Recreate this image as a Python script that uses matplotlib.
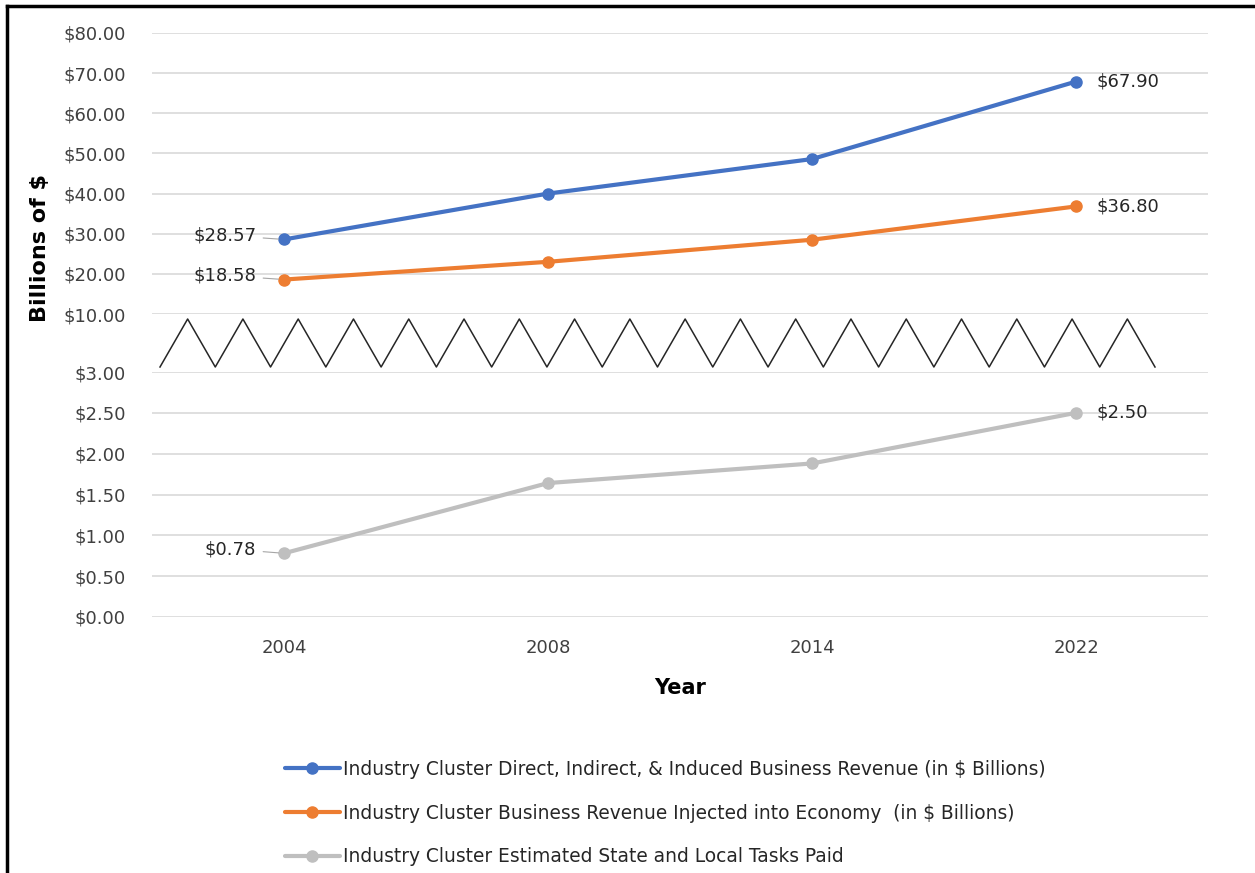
import matplotlib
matplotlib.use("Agg")
import matplotlib.pyplot as plt
from matplotlib.lines import Line2D
import numpy as np

# ------------------ Datos ------------------
years = ["2004", "2008", "2014", "2022"]
revenue_total = [28.57, 40.0, 48.6, 67.90]       # Direct, Indirect & Induced
revenue_injected = [18.58, 23.0, 28.5, 36.80]    # Injected into economy
taxes_paid = [0.78, 1.64, 1.88, 2.50]            # State and local taxes

labels = [
    "Industry Cluster Direct, Indirect, & Induced Business Revenue (in $ Billions)",
    "Industry Cluster Business Revenue Injected into Economy  (in $ Billions)",
    "Industry Cluster Estimated State and Local Tasks Paid",
]
colors = ["#4472C4", "#ED7D31", "#BFBFBF"]

top_ticks = [10, 20, 30, 40, 50, 60, 70, 80]
bottom_ticks = [0, 0.5, 1.0, 1.5, 2.0, 2.5, 3.0]

plt.rcParams["font.family"] = ["DejaVu Sans"]
FS = 13
W, H = 1255, 873
fig = plt.figure(figsize=(W / 100, H / 100), dpi=100)

def fx(px):
    return px / W

def fy(py):
    return 1 - py / H

left, right = 152, 1208
ax_top = fig.add_axes([fx(left), fy(314), fx(right - left), fy(33) - fy(314)])
ax_bot = fig.add_axes([fx(left), fy(617), fx(right - left), fy(372) - fy(617)])

xpos = np.arange(len(years)) + 0.5

for ax in (ax_top, ax_bot):
    ax.set_xlim(0, len(years))
    for s in ax.spines.values():
        s.set_visible(False)
    ax.grid(axis="y", color="#D9D9D9", linewidth=1.2)
    ax.set_axisbelow(True)
    ax.tick_params(axis="both", length=0, labelsize=FS, colors="#404040")
    ax.tick_params(axis="y", pad=19)

ax_top.set_ylim(10, 80)
ax_top.set_yticks(top_ticks)
ax_top.set_yticklabels([f"${v:.2f}" for v in top_ticks])
ax_top.set_xticks([])

ax_bot.set_ylim(0, 3)
ax_bot.set_yticks(bottom_ticks)
ax_bot.set_yticklabels([f"${v:.2f}" for v in bottom_ticks])
ax_bot.set_xticks(xpos)
ax_bot.set_xticklabels(years)
ax_bot.tick_params(axis="x", pad=16)
ax_bot.set_xlabel("Year", fontsize=15, fontweight="bold", labelpad=15)

series = [(ax_top, revenue_total, colors[0], labels[0]),
          (ax_top, revenue_injected, colors[1], labels[1]),
          (ax_bot, taxes_paid, colors[2], labels[2])]

handles = []
for ax, vals, c, lab in series:
    h, = ax.plot(xpos, vals, color=c, linewidth=3, marker="o", markersize=8,
                 label=lab, solid_capstyle="round")
    handles.append(h)
    # etiqueta izquierda con linea guia
    ax.annotate(f"${vals[0]:.2f}", xy=(xpos[0], vals[0]), xytext=(-20, 3),
                textcoords="offset points", ha="right", va="center",
                fontsize=FS, color="#262626",
                arrowprops=dict(arrowstyle="-", color="#A6A6A6", lw=0.8,
                                shrinkA=3, shrinkB=4))
    # etiqueta derecha
    ax.annotate(f"${vals[-1]:.2f}", xy=(xpos[-1], vals[-1]), xytext=(15, 0),
                textcoords="offset points", ha="left", va="center",
                fontsize=FS, color="#262626")

# Zigzag de corte de eje
n_peaks = 18
zx = np.linspace(160, 1155, 2 * n_peaks + 1)
zy = np.where(np.arange(len(zx)) % 2 == 0, 367, 319)
fig.add_artist(Line2D(fx(zx), fy(zy), color="#262626", linewidth=1.1))

fig.text(fx(40), fy(248), "Billions of $", rotation=90, ha="center", va="center",
         fontsize=16, fontweight="bold", color="#000000")

fig.legend(handles=handles, loc="upper left", bbox_to_anchor=(fx(285), fy(760)),
           frameon=False, fontsize=13.4, handlelength=2.95, handletextpad=0.17,
           labelspacing=1.32, borderpad=0, borderaxespad=0, labelcolor="#262626")

# Marco negro (recortado)
fig.add_artist(Line2D([fx(7), fx(7)], [0, fy(6)], color="black", linewidth=2.5))
fig.add_artist(Line2D([fx(7), 1], [fy(6), fy(6)], color="black", linewidth=2.5))

fig.savefig("out.png", dpi=100)
